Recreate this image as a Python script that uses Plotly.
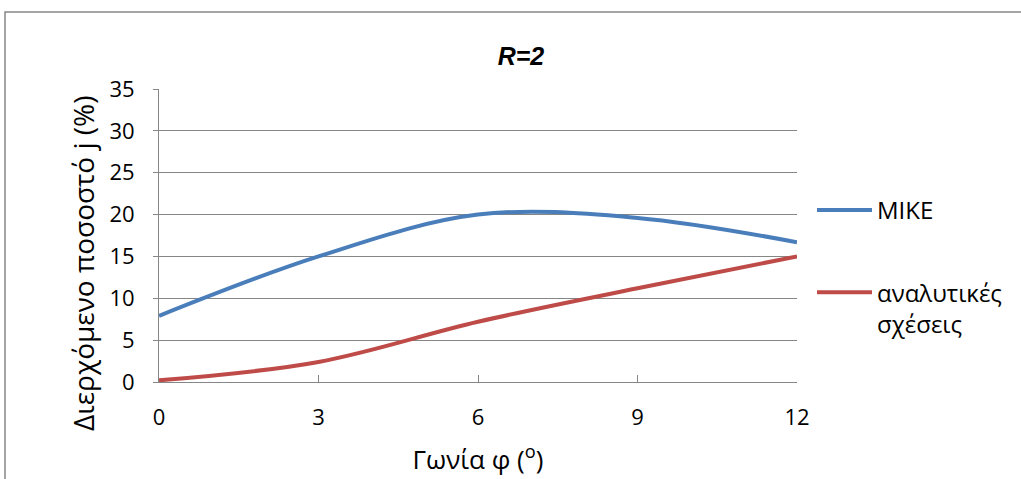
import plotly.graph_objects as go

angle = [0, 3, 6, 9, 12]
mike = [7.9, 15.0, 20.0, 19.6, 16.7]
analytic = [0.2, 2.4, 7.2, 11.2, 15.0]
x_ticks = [0, 3, 6, 9, 12]
y_ticks = [0, 5, 10, 15, 20, 25, 30, 35]

FONT = "Open Sans"

fig = go.Figure()
fig.add_trace(go.Scatter(x=angle, y=mike, mode="lines", name="MIKE",
                         line=dict(color="#4A7EBB", width=4, shape="spline", smoothing=1.0),
                         legendgroup="a"))
fig.add_trace(go.Scatter(x=angle, y=analytic, mode="lines", name="αναλυτικές<br>σχέσεις",
                         line=dict(color="#BE4B48", width=4, shape="spline", smoothing=1.0),
                         legendgroup="b"))

L, R, T, B = 159, 224, 89, 97
W, H = 1021, 479
pw, ph = W - L - R, H - T - B

fig.update_layout(
    width=W, height=H,
    margin=dict(l=L, r=R, t=T, b=B),
    paper_bgcolor="white", plot_bgcolor="white",
    font=dict(family=FONT, color="black"),
    title=dict(text="<b><i>R=2</i></b>", x=521 / W, xanchor="center",
               y=1 - 56 / H, yanchor="middle", font=dict(size=25, family="Liberation Sans")),
    showlegend=True,
    legend=dict(x=(812 - L) / pw, xanchor="left", y=(382 - 188) / ph, yanchor="top",
                font=dict(size=24), tracegroupgap=48, itemwidth=55, valign="top",
                bgcolor="rgba(0,0,0,0)"),
    xaxis=dict(range=[0, 12], tickvals=x_ticks, ticks="inside", ticklen=7, automargin=False,
               tickcolor="#868686", showline=True, linecolor="#868686", linewidth=1,
               showgrid=False, zeroline=False, tickfont=dict(size=22), ticklabelstandoff=16,
               title=dict(text="Γωνία φ (<sup>ο</sup>)", font=dict(size=26), standoff=20)),
    yaxis=dict(range=[0, 35], tickvals=y_ticks, ticks="outside", ticklen=5, automargin=False,
               tickcolor="#868686", showline=True, linecolor="#868686", linewidth=1,
               showgrid=True, gridcolor="#868686", gridwidth=1, zeroline=False,
               tickfont=dict(size=22), ticklabelstandoff=14),
    annotations=[dict(text="Διερχόμενο ποσοστό j (%)", textangle=-90, showarrow=False,
                      xref="paper", yref="paper", x=(83 - L) / pw, y=(382 - 263) / ph,
                      xanchor="center", yanchor="middle", font=dict(size=28))],
    shapes=[dict(type="rect", xref="paper", yref="paper",
                 x0=(5 - L) / pw, x1=(1030 - L) / pw,
                 y0=(382 - 490) / ph, y1=(382 - 12) / ph,
                 line=dict(color="#868686", width=1.5), fillcolor="rgba(0,0,0,0)", layer="below")],
)

fig.write_html("out.html")
